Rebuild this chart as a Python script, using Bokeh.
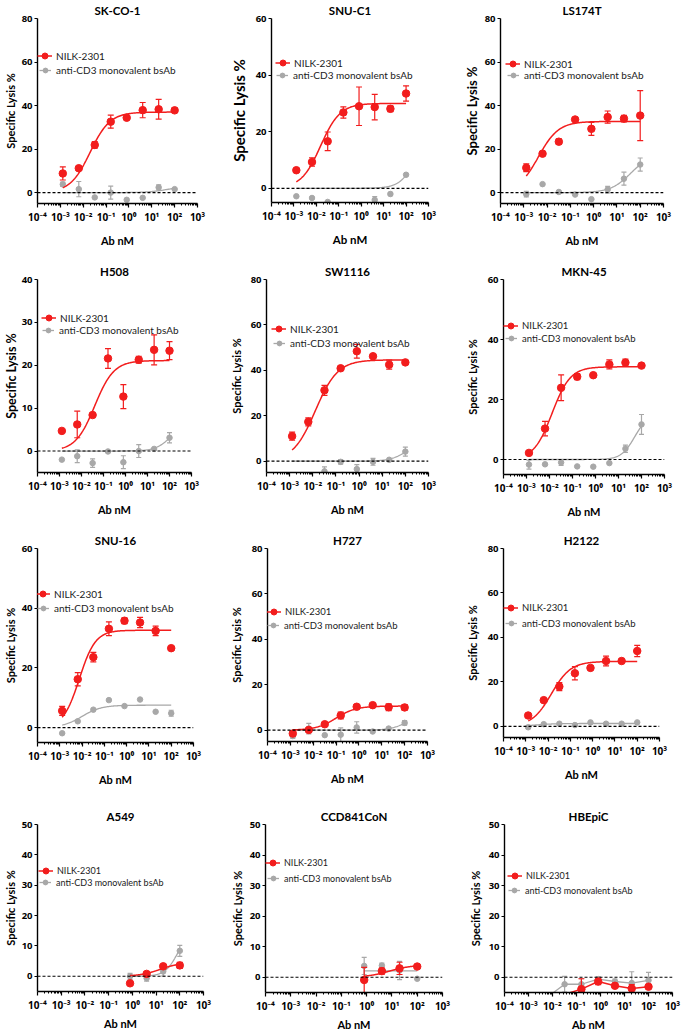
import numpy as np
from bokeh.plotting import figure
from bokeh.models import (Span, Legend, LegendItem, FixedTicker,
                          CustomJSTickFormatter, Range1d)
from bokeh.layouts import row, column
from bokeh.embed import file_html
from bokeh.resources import INLINE

# ---------------- data ----------------
DOSES = [0.00128, 0.0064, 0.032, 0.16, 0.8, 4, 20, 100]      # nM
DOSES_HIGH4 = [0.8, 4, 20, 100]
HBEPIC_NILK_DOSES = [0.032, 0.16, 0.8, 4, 20, 100]
HBEPIC_CD3_DOSES = [0.0064, 0.032, 0.16, 0.8, 4, 20, 100]

SERIES_NAMES = ["NILK-2301", "anti-CD3 monovalent bsAb"]
TITLES = ["SK-CO-1", "SNU-C1", "LS174T", "H508", "SW1116", "MKN-45",
          "SNU-16", "H727", "H2122", "A549", "CCD841CoN", "HBEpiC"]
Y_MAX = [80, 60, 80, 40, 80, 60, 60, 80, 80, 50, 50, 50]
Y_STEP = [20, 20, 20, 10, 20, 20, 20, 20, 20, 10, 10, 10]
Y_MIN = -5
X_TICKS = [1e-4, 1e-3, 1e-2, 1e-1, 1e0, 1e1, 1e2, 1e3]

# fit parameters: [bottom, top, EC50 (nM), Hill slope]
SKCO1_NILK = [8.8, 11.2, 21.9, 32.6, 34.4, 37.9, 38.3, 37.8]
SKCO1_NILK_ERR = [3.0, 0.8, 1.5, 3.0, 0.5, 3.5, 4.5, 1.0]
SKCO1_CD3 = [3.8, 1.6, -2.2, 0.0, -3.3, -2.4, 2.4, 1.6]
SKCO1_CD3_ERR = [1.0, 3.5, 0, 3.0, 0, 0, 1.2, 0]
SKCO1_NILK_FIT = [0, 37.0, 0.02, 1.0]
SKCO1_CD3_FIT = [0, 3.0, 50, 1.0]

SNUC1_NILK = [6.4, 9.3, 16.6, 26.8, 29.0, 28.7, 28.1, 33.5]
SNUC1_NILK_ERR = [0, 1.5, 3.3, 2.0, 6.8, 4.5, 1.0, 2.7]
SNUC1_CD3 = [-2.8, -3.4, -4.8, None, None, -4.1, -2.0, 4.8]
SNUC1_CD3_ERR = [0, 0, 0, 0, 0, 1.2, 0.6, 0]
SNUC1_NILK_FIT = [0, 30.0, 0.0155, 1.0]
SNUC1_CD3_FIT = [0, 22.0, 300, 1.2]

LS174T_NILK = [11.4, 17.9, 23.4, 33.6, 29.3, 34.7, 34.0, 35.4]
LS174T_NILK_ERR = [1.8, 0.5, 1.3, 0.5, 3.0, 2.8, 1.5, 11.5]
LS174T_CD3 = [-0.7, 3.9, 0.3, -0.9, -3.0, 1.4, 6.4, 12.9]
LS174T_CD3_ERR = [1.3, 0, 0, 0, 0, 1.5, 3.0, 3.0]
LS174T_NILK_FIT = [0, 32.7, 0.0042, 1.0]
LS174T_CD3_FIT = [0, 18.0, 40, 1.0]

H508_NILK = [4.7, 6.2, 8.4, 21.6, 12.7, 21.3, 23.6, 23.4]
H508_NILK_ERR = [0, 3.1, 0, 2.3, 2.8, 0.8, 3.5, 2.1]
H508_CD3 = [-2.0, -1.2, -2.8, -0.1, -2.6, 0.0, 0.5, 3.1]
H508_CD3_ERR = [0, 1.5, 1.0, 0, 1.5, 1.5, 0, 1.2]
H508_NILK_FIT = [0, 21.1, 0.04, 1.0]
H508_CD3_FIT = [0, 6.0, 100, 1.3]

SW1116_NILK = [11.0, 17.3, 31.2, 40.9, 48.4, 46.2, 42.5, 43.5]
SW1116_NILK_ERR = [1.8, 1.8, 2.2, 0.5, 3.0, 0.5, 2.0, 0.5]
SW1116_CD3 = [None, None, -4.5, -0.3, -3.5, -0.3, 0.6, 4.2]
SW1116_CD3_ERR = [0, 0, 2.0, 1.0, 2.0, 1.5, 0, 2.0]
SW1116_NILK_FIT = [0, 44.6, 0.013, 0.9]
SW1116_CD3_FIT = [0, 8.0, 100, 1.3]

MKN45_NILK = [2.2, 10.3, 23.9, 27.6, 28.1, 31.7, 32.3, 31.3]
MKN45_NILK_ERR = [0.5, 2.4, 4.3, 1.0, 0, 1.5, 1.2, 0.5]
MKN45_CD3 = [-1.7, -1.6, -1.0, -2.3, -2.4, -1.2, 3.6, 11.7]
MKN45_CD3_ERR = [1.5, 0, 1.0, 0, 0, 0, 1.2, 3.3]
MKN45_NILK_FIT = [0, 30.9, 0.013, 1.1]
MKN45_CD3_FIT = [0, 15.0, 50, 1.5]

SNU16_NILK = [5.6, 16.2, 23.6, 33.1, 35.8, 35.2, 32.4, 26.6]
SNU16_NILK_ERR = [1.5, 2.2, 1.6, 2.3, 1.0, 1.7, 1.6, 0.5]
SNU16_CD3 = [-1.9, 2.1, 6.0, 9.2, 7.2, 9.4, 5.3, 4.8]
SNU16_CD3_ERR = [0, 0, 0, 0, 0, 0, 0, 1.0]
SNU16_NILK_FIT = [0, 32.6, 0.0075, 1.2]
SNU16_CD3_FIT = [0, 7.5, 0.01, 1.0]

H727_NILK = [-1.5, 0.1, 2.6, 6.5, 10.3, 11.0, 10.1, 10.0]
H727_NILK_ERR = [1.0, 1.0, 0.5, 1.5, 1.0, 0.5, 1.5, 1.2]
H727_CD3 = [-2.6, 0.7, -2.2, -2.0, 1.2, -0.6, 0.7, 3.2]
H727_CD3_ERR = [1.0, 2.3, 0, 3.0, 2.5, 0, 0, 1.0]
H727_NILK_FIT = [0, 10.6, 0.1, 1.0]
H727_CD3_FIT = [0, 6.0, 100, 1.3]

H2122_NILK = [4.9, 11.8, 17.9, 23.9, 26.3, 29.4, 29.4, 33.9]
H2122_NILK_ERR = [0, 0, 1.8, 3.0, 0, 2.2, 0, 2.5]
H2122_CD3 = [-0.4, 1.0, 1.2, 0.6, 1.8, 1.2, 1.2, 1.8]
H2122_CD3_ERR = [0.5, 0, 0, 0, 0.5, 0, 0, 0]
H2122_NILK_FIT = [0, 29.2, 0.014, 1.0]
H2122_CD3_FIT = [0, 1.3, 0.003, 1.0]

A549_NILK = [-2.3, 0.8, 3.3, 3.6]
A549_NILK_ERR = [0, 0, 0.5, 1.0]
A549_CD3 = [0.0, -0.6, 1.6, 8.4]
A549_CD3_ERR = [1.0, 1.0, 1.5, 1.8]
A549_NILK_FIT = [0, 4.6, 15, 1.0]
A549_CD3_FIT = [0, 15.0, 80, 1.6]

CCD841_NILK = [-0.9, 2.0, 2.9, 3.5]
CCD841_NILK_ERR = [4.1, 1.0, 2.0, 0.5]
CCD841_CD3 = [3.7, 3.8, 2.2, -0.5]
CCD841_CD3_ERR = [2.8, 0.8, 3.0, 0]
CCD841_NILK_FIT = [0, 4.0, 8, 1.0]
CCD841_CD3_FIT = [2.1, 2.1, 1, 1.0]

HBEPIC_NILK = [-5.6, -3.9, -1.4, -2.8, -3.7, -3.1]
HBEPIC_NILK_ERR = [0, 3.4, 1.0, 0.5, 1.3, 0.5]
HBEPIC_CD3 = [-6.4, -2.3, -2.3, -0.6, -1.4, -1.9, -1.0]
HBEPIC_CD3_ERR = [0, 2.6, 1.8, 0.8, 0.8, 3.7, 2.6]

SERIES = [
    ((DOSES, SKCO1_NILK, SKCO1_NILK_ERR, SKCO1_NILK_FIT), (DOSES, SKCO1_CD3, SKCO1_CD3_ERR, SKCO1_CD3_FIT)),
    ((DOSES, SNUC1_NILK, SNUC1_NILK_ERR, SNUC1_NILK_FIT), (DOSES, SNUC1_CD3, SNUC1_CD3_ERR, SNUC1_CD3_FIT)),
    ((DOSES, LS174T_NILK, LS174T_NILK_ERR, LS174T_NILK_FIT), (DOSES, LS174T_CD3, LS174T_CD3_ERR, LS174T_CD3_FIT)),
    ((DOSES, H508_NILK, H508_NILK_ERR, H508_NILK_FIT), (DOSES, H508_CD3, H508_CD3_ERR, H508_CD3_FIT)),
    ((DOSES, SW1116_NILK, SW1116_NILK_ERR, SW1116_NILK_FIT), (DOSES, SW1116_CD3, SW1116_CD3_ERR, SW1116_CD3_FIT)),
    ((DOSES, MKN45_NILK, MKN45_NILK_ERR, MKN45_NILK_FIT), (DOSES, MKN45_CD3, MKN45_CD3_ERR, MKN45_CD3_FIT)),
    ((DOSES, SNU16_NILK, SNU16_NILK_ERR, SNU16_NILK_FIT), (DOSES, SNU16_CD3, SNU16_CD3_ERR, SNU16_CD3_FIT)),
    ((DOSES, H727_NILK, H727_NILK_ERR, H727_NILK_FIT), (DOSES, H727_CD3, H727_CD3_ERR, H727_CD3_FIT)),
    ((DOSES, H2122_NILK, H2122_NILK_ERR, H2122_NILK_FIT), (DOSES, H2122_CD3, H2122_CD3_ERR, H2122_CD3_FIT)),
    ((DOSES_HIGH4, A549_NILK, A549_NILK_ERR, A549_NILK_FIT), (DOSES_HIGH4, A549_CD3, A549_CD3_ERR, A549_CD3_FIT)),
    ((DOSES_HIGH4, CCD841_NILK, CCD841_NILK_ERR, CCD841_NILK_FIT), (DOSES_HIGH4, CCD841_CD3, CCD841_CD3_ERR, CCD841_CD3_FIT)),
    ((HBEPIC_NILK_DOSES, HBEPIC_NILK, HBEPIC_NILK_ERR, None), (HBEPIC_CD3_DOSES, HBEPIC_CD3, HBEPIC_CD3_ERR, None)),
]

# ---------------- layout / style ----------------
RED = "#f21d1d"
GRAY = "#a8a8a8"
COL_BOUNDS = [8, 228, 456, 677]
ROW_BOUNDS = [8, 262, 524, 785, 1026]
# frame (left, right, top, bottom) in page pixels
FRAMES = [
    (39, 199, 24, 209), (269, 426, 24, 208), (498, 661, 24, 209),
    (39, 193, 285, 478), (265, 427, 281, 474), (502, 663, 282, 477),
    (39, 195, 551, 745), (266, 426, 552, 745), (502, 658, 554, 743),
    (38, 204, 824, 991), (261, 438, 824, 992), (500, 668, 823, 991),
]
# legend: first-row position (data y), row gap px, symbol offset px from axis
LEGEND_POS = [
    (62.7, 14, 3), (44.4, 12.4, 6.7), (59.3, 12.4, 8.3),
    (31.0, 12.3, 6.7), (58.1, 14.3, 8.3), (44.4, 12.7, 3.3),
    (44.7, 14, 1), (52.2, 13.7, 1.7), (53.4, 16, 3.3),
    (34.7, 11.5, 3.7), (37.3, 15.7, 3.3), (33.3, 15.4, 5.7),
]
LEGEND_FONT = [10, 10, 10, 10, 10, 9.5, 10, 9.5, 9.5, 9, 9, 9]
YLABEL_FONT = [11, 15, 13, 12.5, 11, 11, 11, 11, 11, 11, 11, 11]
YLABEL_STANDOFF = [2, 5, 2, 0, 5, 6, 2, 6, 6, 2, 3, 4]
XLABEL_FONT = [11, 11.5, 11, 11, 11, 11, 11, 11, 11, 11, 11, 11]
XLABEL_STANDOFF = [7, 7, 7, 7, 7, 7, 7, 7, 7, 2, 2, 2]
FONT = "Lato"
TICK_FONT = "Noto Sans"

SUP_CODE = """
const sup = {"-":"\\u207b","0":"\\u2070","1":"\\u00b9","2":"\\u00b2","3":"\\u00b3",
             "4":"\\u2074","5":"\\u2075","6":"\\u2076","7":"\\u2077","8":"\\u2078","9":"\\u2079"};
const e = Math.round(Math.log10(tick));
return "10" + String(e).split("").map(c => sup[c]).join("");
"""


def fourpl(x, fit):
    bottom, top, ec50, hill = fit
    return bottom + (top - bottom) / (1.0 + (ec50 / x) ** hill)


def add_series(p, spec, color, msize, cap, lw):
    doses, vals, errs, fit = spec
    x = np.asarray(doses, float)
    y = np.array([np.nan if v is None else v for v in vals], float)
    e = np.asarray(errs, float)
    if fit is not None:
        xs = np.logspace(np.log10(x[0]), np.log10(x[-1]), 160)
        line = p.line(xs, fourpl(xs, fit), line_color=color, line_width=lw)
    else:
        ok = ~np.isnan(y)
        line = p.line(x[ok], y[ok], line_color=color, line_width=lw)
    has = (e > 0) & ~np.isnan(y)
    if has.any():
        p.segment(x[has], y[has] - e[has], x[has], y[has] + e[has],
                  line_color=color, line_width=1.2)
        p.scatter(np.concatenate([x[has], x[has]]),
                  np.concatenate([y[has] - e[has], y[has] + e[has]]),
                  marker="dash", size=cap, line_color=color, line_width=1.2)
    vis = ~np.isnan(y) & (y >= Y_MIN)
    sc = p.scatter(x[vis], y[vis], marker="circle", size=msize,
                   fill_color=color, line_color=color)
    return line, sc


def make_panel(i):
    r, c = divmod(i, 3)
    X0, X1 = COL_BOUNDS[c], COL_BOUNDS[c + 1]
    Y0, Y1 = ROW_BOUNDS[r], ROW_BOUNDS[r + 1]
    FL, FR, FT, FB = FRAMES[i]
    ymax = Y_MAX[i]
    p = figure(x_axis_type="log", x_range=Range1d(1e-4, 1e3),
               y_range=Range1d(Y_MIN, ymax),
               frame_width=FR - FL, frame_height=FB - FT,
               min_border_left=FL - X0, min_border_right=X1 - FR,
               min_border_top=FT - Y0, min_border_bottom=Y1 - FB,
               toolbar_location=None, output_backend="svg", title=TITLES[i])
    p.outline_line_color = None
    p.xgrid.visible = False
    p.ygrid.visible = False
    p.title.align = "center"
    p.title.text_font = FONT
    p.title.text_font_style = "bold"
    p.title.text_font_size = "11.5px"
    p.title.text_color = "black"
    p.title.standoff = 3

    xa = p.xaxis[0]
    xa.ticker = FixedTicker(ticks=X_TICKS,
                            minor_ticks=[m * 10.0 ** k for k in range(-4, 3) for m in range(2, 10)])
    xa.formatter = CustomJSTickFormatter(code=SUP_CODE)
    xa.axis_label = "Ab nM"
    xa.axis_label_standoff = XLABEL_STANDOFF[i]
    xa.major_tick_out = 4
    xa.major_tick_in = 0
    xa.minor_tick_out = 2
    xa.minor_tick_in = 0

    ya = p.yaxis[0]
    ya.ticker = FixedTicker(ticks=list(range(0, ymax + 1, Y_STEP[i])))
    ya.axis_label = "Specific Lysis %"
    ya.axis_label_standoff = YLABEL_STANDOFF[i]
    ya.major_tick_out = 3
    ya.major_tick_in = 0

    for ax in (xa, ya):
        ax.axis_line_width = 1.4
        ax.axis_line_color = "black"
        ax.major_tick_line_width = 1.2
        ax.major_tick_line_color = "black"
        ax.major_label_text_font = TICK_FONT
        ax.major_label_text_font_style = "bold"
        ax.major_label_text_color = "black"
        ax.major_label_standoff = 2
        ax.axis_label_text_font = FONT
        ax.axis_label_text_font_style = "bold"
        ax.axis_label_text_color = "black"
    xa.major_label_text_font_size = "10px"
    ya.major_label_text_font_size = "9.5px"
    xa.minor_tick_line_color = "black"
    ya.minor_tick_line_color = None
    xa.axis_label_text_font_size = f"{XLABEL_FONT[i]}px"
    ya.axis_label_text_font_size = f"{YLABEL_FONT[i]}px"

    p.add_layout(Span(location=0, dimension="width", line_dash="3 2",
                      line_color="black", line_width=1.1))

    nilk_spec, cd3_spec = SERIES[i]
    g_line, g_sc = add_series(p, cd3_spec, GRAY, 5.5, 5, 1.3)
    r_line, r_sc = add_series(p, nilk_spec, RED, 7.5, 6, 1.5)

    # legends (one per row so that the marker sizes differ)
    val1, gap, symoff = LEGEND_POS[i]
    fs = LEGEND_FONT[i]
    sy1 = FB - (val1 - Y_MIN) / (ymax - Y_MIN) * (FB - FT)
    sy2 = sy1 + gap
    sym_start = FL + symoff
    for (lbl, rends, gw, st, x0, cy) in [
        (SERIES_NAMES[0], [r_line, r_sc], 15, 4, sym_start - 3, sy1),
        (SERIES_NAMES[1], [g_line, g_sc], 12, 5, sym_start - 1.5, sy2),
    ]:
        h = max(gw, round(fs * 1.2))
        leg = Legend(items=[LegendItem(label=lbl, renderers=rends)],
                     location=(int(round(x0 - FL)), int(round(FB - (cy + h / 2)))),
                     padding=0, margin=0, spacing=0,
                     glyph_width=gw, glyph_height=gw, label_height=h,
                     label_standoff=st, label_text_font=FONT,
                     label_text_font_size=f"{fs}px", label_text_color="#1a1a1a",
                     border_line_color=None, background_fill_alpha=0.0)
        p.add_layout(leg)
    return p


panels = [make_panel(i) for i in range(12)]
layout = column(*[row(*panels[3 * k:3 * k + 3]) for k in range(4)])
open("out.html", "w", encoding="utf-8").write(file_html(layout, INLINE))
